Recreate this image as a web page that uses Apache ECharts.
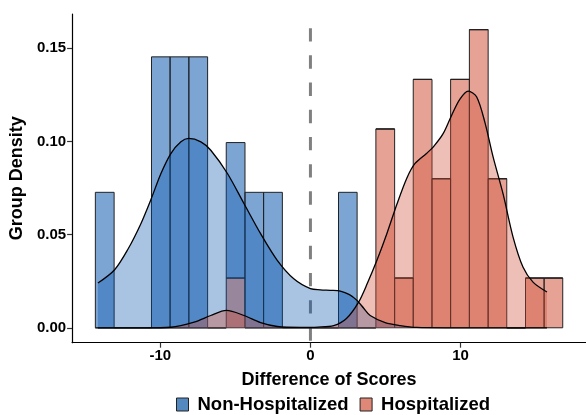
<!DOCTYPE html>
<html>
<head>
<meta charset="utf-8">
<script src="https://cdn.jsdelivr.net/npm/echarts@6/dist/echarts.min.js"></script>
<style>
html,body{margin:0;padding:0;background:#fff;}
#chart{width:586px;height:415px;}
</style>
</head>
<body>
<div id="chart"></div>
<script>
// ---- data ----
const groups = ['Non-Hospitalized', 'Hospitalized'];
// histogram bin edges (Difference of Scores)
const binEdges = [-14.33, -13.08, -11.84, -10.59, -9.35, -8.10, -6.85, -5.61, -4.36, -3.12, -1.87, -0.62,
  0.62, 1.87, 3.11, 4.36, 5.61, 6.85, 8.10, 9.34, 10.59, 11.84, 13.08, 14.33, 15.57, 16.81];
// group densities per bin
const nonHospHist = [0.0727, 0, 0, 0.1454, 0.1454, 0.1454, 0, 0.0727, 0.0727, 0.0727, 0, 0, 0, 0.0727,
  0, 0, 0, 0, 0, 0, 0, 0, 0, 0, 0];
const hospHist = [0, 0, 0, 0, 0, 0, 0, 0.0267, 0, 0, 0, 0, 0, 0, 0, 0.1067, 0.0267, 0.1333, 0.0800,
  0.1333, 0.1600, 0.0800, 0, 0.0267, 0.0267];
// density curves
const nonHospDensX = [-14.16, -13.06, -12.17, -11.29, -10.62, -9.96, -9.30, -8.63, -8.12, -7.30, -6.64, -5.53,
  -4.43, -3.32, -2.21, -1.11, 0, 0.66, 1.33, 1.99, 2.6, 3.10, 3.55, 3.98, 4.98, 5.98, 7.08, 9, 12, 15.76];
const nonHospDensY = [0.0240, 0.0310, 0.0420, 0.0560, 0.0690, 0.0828, 0.0935, 0.0998, 0.1016, 0.0998, 0.0953, 0.0828,
  0.0667, 0.0505, 0.0362, 0.0263, 0.0210, 0.0204, 0.0201, 0.0197, 0.0178, 0.0147, 0.0105, 0.0066, 0.0028, 0.0012, 0.0002, 0, 0, 0];
const hospDensX = [-14.16, -11, -9.30, -7.75, -6.64, -5.60, -4.43, -3.32, -2.21, -0.66, 0.5, 1.55, 2.4, 3.21, 3.8,
  4.43, 5.09, 5.76, 6.42, 6.97, 7.75, 8.19, 8.85, 9.41, 9.96, 10.51, 11.07, 11.62, 12.17, 12.84, 13.50, 14.16, 14.83, 15.76];
const hospDensY = [0, 0, 0.0003, 0.0030, 0.0066, 0.0093, 0.0066, 0.0028, 0.0007, 0.0002, 0.0004, 0.0012, 0.0050, 0.0138, 0.0240,
  0.0362, 0.0505, 0.0663, 0.0803, 0.0882, 0.0937, 0.0971, 0.1043, 0.1141, 0.1227, 0.1270, 0.1240, 0.1104, 0.0917, 0.0717, 0.0487, 0.0326, 0.0245, 0.0192];
const refLineX = 0;
const xTicks = [-10, 0, 10];
const yTicks = [0, 0.05, 0.10, 0.15];

// ---- styles ----
const blueBar = 'rgba(3,82,170,0.52)';
const blueDens = 'rgba(3,82,170,0.34)';
const redBar = 'rgba(207,77,52,0.52)';
const redDens = 'rgba(207,77,52,0.36)';
const X_MIN = -15.88, X_MAX = 18.36, Y_MIN = -0.008, Y_MAX = 0.1684;
const REF_TOP = 0.1608;
const FONT = '"Liberation Sans", Arial, sans-serif';

// stacked histogram rows: [x0, x1, yBottom, yTop]
const hospRows = hospHist.map((v, i) => [binEdges[i], binEdges[i + 1], 0, v]);
const nonHospRows = nonHospHist.map((v, i) => [binEdges[i], binEdges[i + 1], hospHist[i], hospHist[i] + v]);

function barRenderer(fill) {
  return function (params, api) {
    const a = api.coord([api.value(0), api.value(3)]);
    const b = api.coord([api.value(1), api.value(2)]);
    return {
      type: 'rect',
      shape: { x: a[0], y: a[1], width: b[0] - a[0], height: b[1] - a[1] },
      style: { fill: fill, stroke: '#222', lineWidth: 1 }
    };
  };
}

const chart = echarts.init(document.getElementById('chart'), null, { renderer: 'canvas' });
chart.setOption({
  animation: false,
  backgroundColor: '#fff',
  grid: { left: 71, right: 0, top: 14, bottom: 72.3 },
  legend: {
    left: 176, top: 395, padding: 0,
    itemWidth: 12, itemHeight: 13, itemGap: 11,
    icon: 'rect',
    textStyle: { fontFamily: FONT, fontWeight: 'bold', fontSize: 18.5, color: '#000', padding: [0, 0, 0, 4] },
    data: [
      { name: groups[0], itemStyle: { color: '#5389be', borderColor: '#222', borderWidth: 1 } },
      { name: groups[1], itemStyle: { color: '#df8878', borderColor: '#222', borderWidth: 1 } }
    ]
  },
  xAxis: {
    type: 'value', min: X_MIN, max: X_MAX,
    name: 'Difference of Scores', nameLocation: 'middle', nameGap: 28,
    nameTextStyle: { fontFamily: FONT, fontWeight: 'bold', fontSize: 18, color: '#000' },
    splitLine: { show: false },
    axisLine: { onZero: false, lineStyle: { color: '#000', width: 1.2 } },
    axisTick: { customValues: xTicks, length: 5, lineStyle: { color: '#333', width: 1.2 } },
    axisLabel: { customValues: xTicks, fontFamily: FONT, fontWeight: 'bold', fontSize: 15, color: '#000', margin: 6 }
  },
  yAxis: {
    type: 'value', min: Y_MIN, max: Y_MAX,
    name: 'Group Density', nameLocation: 'middle', nameGap: 40, nameRotate: 90,
    nameTextStyle: { fontFamily: FONT, fontWeight: 'bold', fontSize: 18, color: '#000' },
    splitLine: { show: false },
    axisLine: { show: true, onZero: false, lineStyle: { color: '#000', width: 1.2 } },
    axisTick: { show: true, customValues: yTicks, length: 5, lineStyle: { color: '#333', width: 1.2 } },
    axisLabel: { customValues: yTicks, formatter: v => v.toFixed(2), fontFamily: FONT, fontWeight: 'bold', fontSize: 15, color: '#000', margin: 6 }
  },
  series: [
    {
      type: 'line', name: 'ref', z: 1, silent: true, symbol: 'none',
      data: [[refLineX, REF_TOP], [refLineX, Y_MIN]],
      lineStyle: { color: '#808080', width: 3, type: [13.4, 13.8] }
    },
    {
      type: 'custom', name: groups[1], z: 2,
      renderItem: barRenderer(redBar),
      encode: { x: [0, 1], y: [2, 3] },
      data: hospRows
    },
    {
      type: 'custom', name: groups[0], z: 2,
      renderItem: barRenderer(blueBar),
      encode: { x: [0, 1], y: [2, 3] },
      data: nonHospRows
    },
    {
      type: 'line', name: groups[0], z: 3, symbol: 'none', smooth: 0.3,
      data: nonHospDensX.map((x, i) => [x, nonHospDensY[i]]),
      lineStyle: { color: '#000', width: 1.3 },
      areaStyle: { color: blueDens, opacity: 1, origin: 0 }
    },
    {
      type: 'line', name: groups[1], z: 3, symbol: 'none', smooth: 0.3,
      data: hospDensX.map((x, i) => [x, hospDensY[i]]),
      lineStyle: { color: '#000', width: 1.3 },
      areaStyle: { color: redDens, opacity: 1, origin: 0 }
    }
  ]
});
</script>
</body>
</html>
